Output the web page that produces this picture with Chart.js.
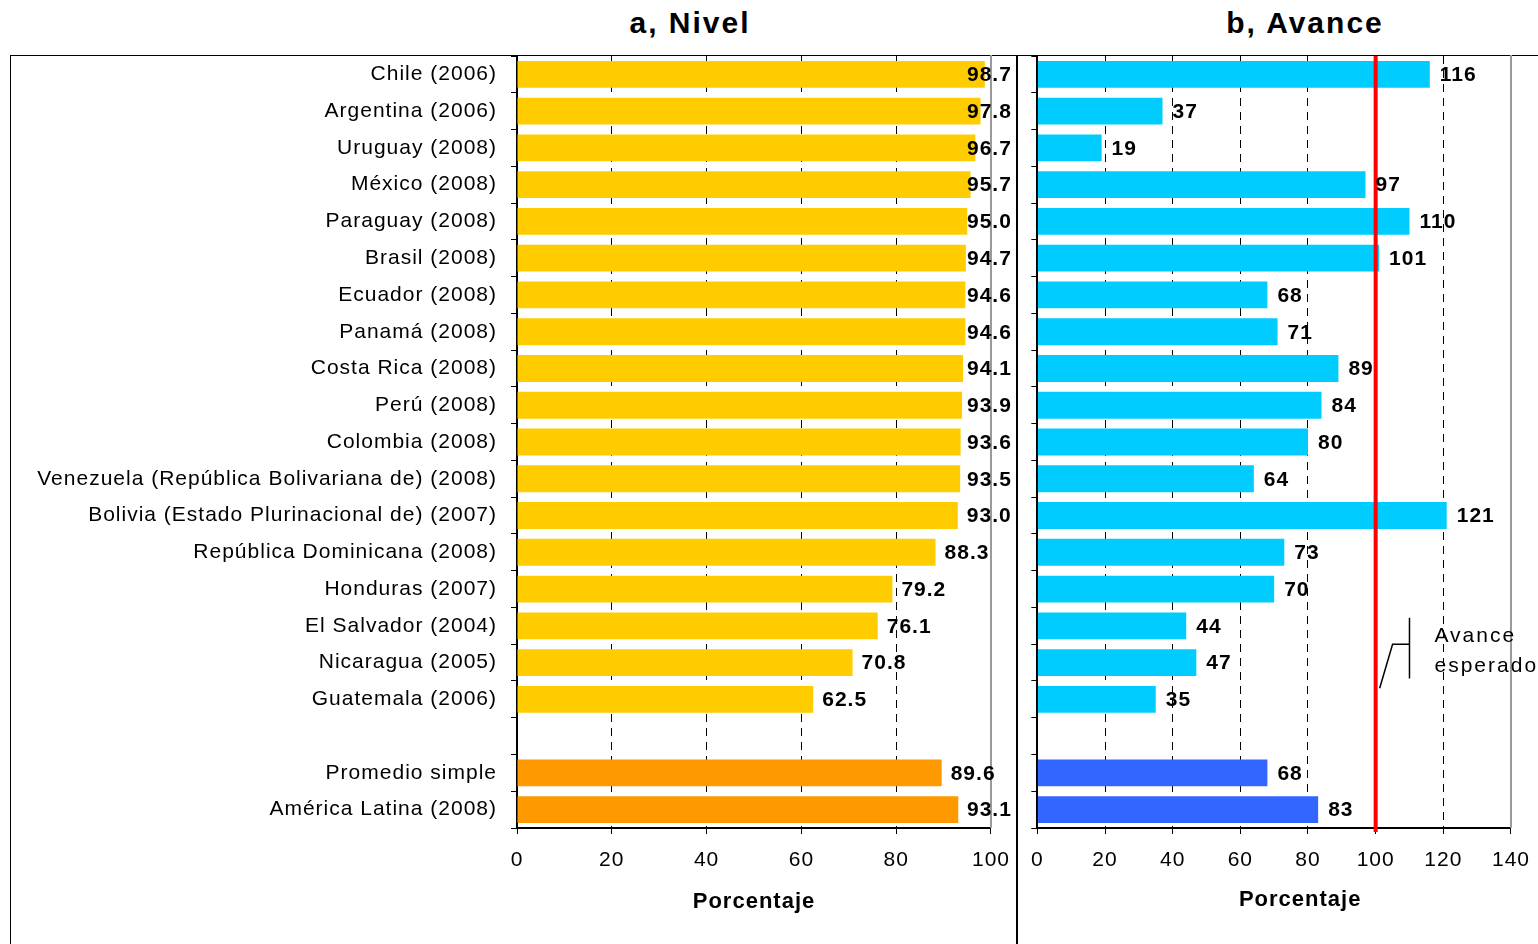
<!DOCTYPE html>
<html lang="es">
<head>
<meta charset="utf-8">
<title>Nivel y avance</title>
<script src="https://cdn.jsdelivr.net/npm/chart.js@4.4.1/dist/chart.umd.min.js"></script>
<style>
  html, body { margin: 0; padding: 0; background: #fff; }
  body { width: 1538px; height: 944px; position: relative; overflow: hidden;
         font-family: "Liberation Sans", Arial, sans-serif; }
  .box { position: absolute; top: 55px; height: 920px; border: 1.5px solid #000; box-sizing: border-box; }
  #boxA { left: 10px; width: 1008px; }
  #boxB { left: 1016px; width: 540px; }
  .panel-title { position: absolute; top: 6px; font-weight: bold; font-size: 30px; letter-spacing: 2px;
                 transform: translateX(-50%); white-space: nowrap; }
  canvas { position: absolute; top: 0; }
  #chartA { left: 0; }
  #chartB { left: 1017px; }
</style>
</head>
<body>
<div class="box" id="boxA"></div>
<div class="box" id="boxB"></div>
<div class="panel-title" style="left:690px">a, Nivel</div>
<div class="panel-title" style="left:1305px">b, Avance</div>
<!-- the canvases are a bit wider than their panels: the last tick label's overflow sets the right edge -->
<canvas id="chartA" width="1024" height="944"></canvas>
<canvas id="chartB" width="527" height="944"></canvas>

<script>
/* ── Data ──────────────────────────────────────────────── */
const countries = [
  'Chile (2006)', 'Argentina (2006)', 'Uruguay (2008)', 'México (2008)', 'Paraguay (2008)',
  'Brasil (2008)', 'Ecuador (2008)', 'Panamá (2008)', 'Costa Rica (2008)', 'Perú (2008)',
  'Colombia (2008)', 'Venezuela (República Bolivariana de) (2008)',
  'Bolivia (Estado Plurinacional de) (2007)', 'República Dominicana (2008)', 'Honduras (2007)',
  'El Salvador (2004)', 'Nicaragua (2005)', 'Guatemala (2006)'
];
const summaries = ['Promedio simple', 'América Latina (2008)'];

const nivelPais = [98.7, 97.8, 96.7, 95.7, 95.0, 94.7, 94.6, 94.6, 94.1, 93.9, 93.6, 93.5, 93.0, 88.3, 79.2, 76.1, 70.8, 62.5];
const nivelResumen = [89.6, 93.1];

const avancePais = [116, 37, 19, 97, 110, 101, 68, 71, 89, 84, 80, 64, 121, 73, 70, 44, 47, 35];
const avanceResumen = [68, 83];

const nivelTicks = [0, 20, 40, 60, 80, 100];
const avanceTicks = [0, 20, 40, 60, 80, 100, 120, 140];
const avanceEsperado = 100;

/* ── Styling ───────────────────────────────────────────── */
const FONT = '"Liberation Sans", Arial, sans-serif';
const C = { gold: '#FFCC00', orange: '#FF9900', cyan: '#00CCFF', blue: '#3366FF', red: '#FF0000' };

Chart.defaults.font.family = FONT;
Chart.defaults.color = '#000';

// one blank row separates the countries from the summary rows
const categories = [...countries, '', ...summaries];
const rowColors = (main, summary) => categories.map((_, i) => i > countries.length ? summary : main);

/* ── Plugins ───────────────────────────────────────────── */
const spacing = {
  id: 'spacing',
  beforeUpdate(chart) { chart.ctx.letterSpacing = '1px'; },
  beforeDraw(chart) { chart.ctx.letterSpacing = '1px'; }
};

const frame = {
  id: 'frame',
  beforeDatasetsDraw(chart) {
    const { ctx, chartArea: a } = chart;
    ctx.save();
    ctx.strokeStyle = '#999';
    ctx.lineWidth = 2;
    ctx.beginPath();
    ctx.moveTo(a.right, a.top - 1);
    ctx.lineTo(a.right, a.bottom);
    ctx.stroke();
    ctx.restore();
  }
};

const esperado = {
  id: 'esperado',
  afterDatasetsDraw(chart, args, opts) {
    if (opts.value == null) return;
    const { ctx, chartArea: a, scales: { x, y } } = chart;
    const xr = x.getPixelForValue(opts.value);
    ctx.save();
    ctx.strokeStyle = C.red;
    ctx.lineWidth = 4;
    ctx.beginPath();
    ctx.moveTo(xr, a.top);
    ctx.lineTo(xr, a.bottom + 4);
    ctx.stroke();

    // leader bracket towards the caption
    const yA = y.getPixelForValue(opts.row);
    const yB = y.getPixelForValue(opts.row + 1);
    const yC = y.getPixelForValue(opts.row + 2);
    const yMid = (yA + yB) / 2;
    const xv = x.getPixelForValue(opts.value * 1.10);
    const xh = x.getPixelForValue(opts.value * 1.05);
    ctx.strokeStyle = '#000';
    ctx.lineWidth = 1.5;
    ctx.beginPath();
    ctx.moveTo(xv, yA - 8); ctx.lineTo(xv, yB + 16);
    ctx.moveTo(xv, yMid); ctx.lineTo(xh, yMid); ctx.lineTo(xr + 4, yC - 11);
    ctx.stroke();

    ctx.font = `21px ${FONT}`;
    ctx.letterSpacing = '2px';
    ctx.fillStyle = '#000';
    ctx.textBaseline = 'middle';
    ctx.textAlign = 'left';
    ctx.fillText(opts.lines[0], xv + 25, yA + 10);
    ctx.fillText(opts.lines[1], xv + 25, yB + 4);
    ctx.restore();
  }
};

const valueLabels = {
  id: 'valueLabels',
  afterDatasetsDraw(chart, args, opts) {
    const { ctx, chartArea } = chart;
    const meta = chart.getDatasetMeta(0);
    const data = chart.data.datasets[0].data;
    ctx.save();
    ctx.font = `bold 21px ${FONT}`;
    ctx.letterSpacing = '1px';
    ctx.fillStyle = '#000';
    ctx.textBaseline = 'middle';
    ctx.textAlign = 'left';
    meta.data.forEach((bar, i) => {
      const v = data[i];
      if (v == null) return;
      let x = bar.x + opts.gap;
      if (opts.inset != null) x = Math.min(x, chartArea.right - opts.inset);
      ctx.fillText(opts.decimals ? v.toFixed(opts.decimals) : String(v), x, bar.y + 1);
    });
    ctx.restore();
  }
};

const caption = {
  id: 'caption',
  afterDraw(chart, args, opts) {
    const { ctx, chartArea: a } = chart;
    ctx.save();
    ctx.font = `bold 22px ${FONT}`;
    ctx.letterSpacing = '1px';
    ctx.fillStyle = '#000';
    ctx.textAlign = 'center';
    ctx.textBaseline = 'middle';
    ctx.fillText(opts.text, (a.left + a.right) / 2 + opts.dx, a.bottom + opts.dy);
    ctx.restore();
  }
};

/* ── Chart builder ─────────────────────────────────────── */
function panel(canvasId, cfg) {
  const max = cfg.ticks[cfg.ticks.length - 1];
  return new Chart(document.getElementById(canvasId), {
    type: 'bar',
    data: {
      labels: categories,
      datasets: [{
        data: cfg.values,
        backgroundColor: cfg.colors,
        barPercentage: 0.73,
        categoryPercentage: 1
      }]
    },
    plugins: [spacing, frame, esperado, valueLabels, caption],
    options: {
      indexAxis: 'y',
      responsive: false,
      animation: false,
      layout: { padding: { top: 56, right: 0, left: 0, bottom: 0 } },
      plugins: {
        legend: { display: false },
        tooltip: { enabled: false },
        valueLabels: cfg.labels,
        esperado: cfg.esperado || {},
        caption: { text: 'Porcentaje', dx: cfg.captionDx, dy: cfg.captionDy }
      },
      scales: {
        x: {
          min: 0,
          max: max,
          afterBuildTicks: s => { s.ticks = cfg.ticks.map(v => ({ value: v })); },
          ticks: { padding: 14, font: { size: 21 }, color: '#000' },
          grid: {
            color: c => (c.tick && c.tick.value > 0 && c.tick.value < max ? '#000' : 'rgba(0,0,0,0)'),
            tickColor: '#000',
            tickLength: 6,
            lineWidth: 1
          },
          border: { color: '#000', width: 2, dash: [8, 6] },
          afterFit: s => { s.height = 116; }
        },
        y: {
          ticks: { display: cfg.showLabels, padding: 14, font: { size: 21 }, color: '#000', autoSkip: false },
          grid: { offset: true, drawOnChartArea: false, color: '#000', tickLength: 6, lineWidth: 1 },
          border: { color: '#000', width: 2 },
          afterFit: s => { s.width = cfg.axisWidth; }
        }
      }
    }
  });
}

panel('chartA', {
  values: [...nivelPais, null, ...nivelResumen],
  colors: rowColors(C.gold, C.orange),
  ticks: nivelTicks,
  showLabels: true,
  axisWidth: 517,
  labels: { gap: 9, inset: 24, decimals: 1 },
  captionDx: 0,
  captionDy: 74
});

panel('chartB', {
  values: [...avancePais, null, ...avanceResumen],
  colors: rowColors(C.cyan, C.blue),
  ticks: avanceTicks,
  showLabels: false,
  axisWidth: 19,
  labels: { gap: 10, decimals: 0 },
  esperado: { value: avanceEsperado, row: 15, lines: ['Avance', 'esperado'] },
  captionDx: 26,
  captionDy: 72
});
</script>
</body>
</html>
